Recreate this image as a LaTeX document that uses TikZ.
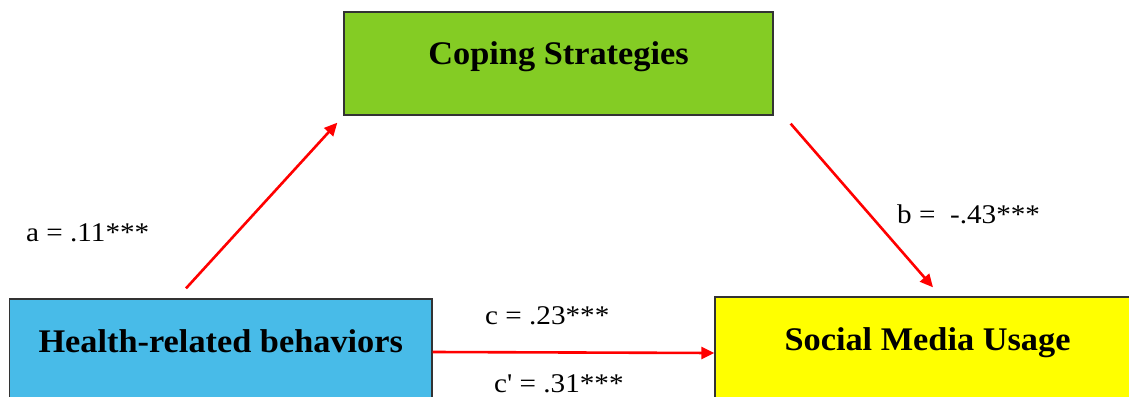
\documentclass[tikz,border=0pt]{standalone}
\usepackage{graphicx}
\usepackage{fontspec}
\setmainfont{Liberation Serif}
\usetikzlibrary{arrows.meta}
\definecolor{copgreen}{RGB}{132,204,36}
\definecolor{hblue}{RGB}{72,187,232}
\definecolor{syellow}{RGB}{255,255,0}
\definecolor{arrred}{RGB}{255,0,0}
\newcommand{\wlab}[1]{\scalebox{1.08}[1]{#1}}
\newcommand{\wbox}[1]{\scalebox{1.04}[1]{#1}}
\begin{document}
\begin{tikzpicture}[x=1pt,y=-1pt,
  box/.style={draw=black!80, line width=1.3pt, inner sep=0pt,
    font=\fontsize{33}{36}\selectfont\bfseries},
  patharrow/.style={draw=arrred, line width=2.6pt, -{Triangle[length=13pt,width=12pt]}},
  lab/.style={anchor=base west, inner sep=0pt, font=\fontsize{27}{30}\selectfont}]
\useasboundingbox (0,0) rectangle (1129,396);
\clip (0,0) rectangle (1129,396);
\node[box, fill=copgreen, minimum width=429pt, minimum height=103pt,
  text height=23pt, text depth=20pt] (cop) at (558.5,63.5) {\wbox{Coping Strategies}};
\node[box, fill=hblue, minimum width=422.5pt, minimum height=121pt,
  text height=23pt, text depth=38pt] (hrb) at (220.75,359.5) {\wbox{Health-related behaviors}};
\node[box, fill=syellow, minimum width=425pt, minimum height=123pt,
  text height=23pt, text depth=40pt] (smu) at (927.5,358.5) {\wbox{Social Media Usage}};
\draw[patharrow] ([xshift=-34.75pt,yshift=10pt]hrb.north) -- ([xshift=-6pt,yshift=-7pt]cop.south west);
\draw[patharrow] ([xshift=17pt,yshift=-8pt]cop.south east) -- ([xshift=5.5pt,yshift=9pt]smu.north);
\draw[patharrow] ([yshift=7.5pt]hrb.east) -- ([yshift=5.5pt]smu.west);
\node[lab] (la) at (26,241) {\wlab{a = .11***}};
\node[lab] (lb) at (897,223) {\wlab{b =\ \ -.43***}};
\node[lab] (lc) at (485,324) {\wlab{c = .23***}};
\node[lab] (lcp) at (494,392) {\wlab{c\textquotesingle\ = .31***}};
\end{tikzpicture}
\end{document}
